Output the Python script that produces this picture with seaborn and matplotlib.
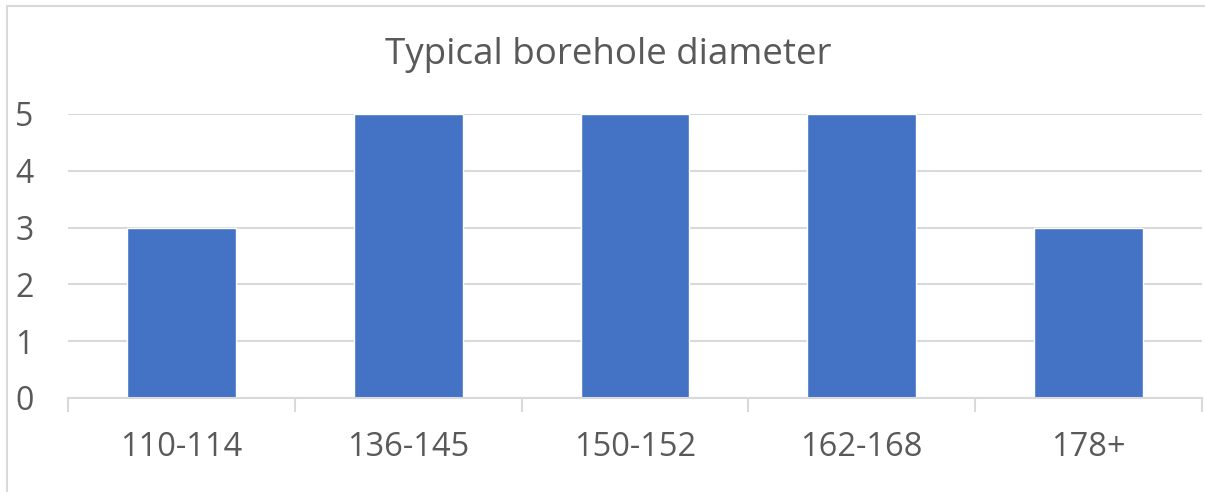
# -*- coding: utf-8 -*-
"""
Bar chart of typical borehole diameters
"""

import seaborn as sns
import matplotlib.pyplot as plt
import matplotlib.patches as mpatches
import pandas as pd
import numpy as np

# data
diameters = ['110-114', '136-145', '150-152', '162-168', '178+']
counts = [3, 5, 5, 5, 3]

df = pd.DataFrame({'diameter': diameters, 'count': counts})

# set theme
sns.set_theme(style='white')
plt.rcParams['font.family'] = ['Open Sans', 'DejaVu Sans']

grey = '#d9d9d9'
text_grey = '#595959'

fig = plt.figure(figsize=(12.05, 4.92), dpi=100)
ax = fig.add_axes([68 / 1205, 94 / 492, 1134 / 1205, 284 / 492])

sns.barplot(data=df, x='diameter', y='count', color='#4472C4',
            width=0.48, saturation=1, ax=ax)

ax.set_xlim(-0.5, len(diameters) - 0.5)
ax.set_ylim(0, 5)
ax.set_yticks(range(0, 6))
ax.yaxis.grid(True, color=grey, linewidth=1.5)
ax.set_axisbelow(True)
for side in ['top', 'right', 'left']:
    ax.spines[side].set_visible(False)
ax.spines['bottom'].set_color(grey)
ax.spines['bottom'].set_linewidth(1.5)

ax.set_xlabel('')
ax.set_ylabel('')
ax.tick_params(axis='x', which='major', length=0, pad=24,
               labelsize=23.5, labelcolor=text_grey)
ax.set_xticks(np.arange(-0.5, len(diameters)), minor=True)
ax.tick_params(axis='x', which='minor', length=10, width=1.5,
               color=grey, bottom=True)
ax.tick_params(axis='y', length=0, pad=38, labelsize=23,
               labelcolor=text_grey)
for lab in ax.get_yticklabels():
    lab.set_horizontalalignment('left')

fig.text(608 / 1205, 1 - 55 / 492, 'Typical borehole diameter',
         ha='center', va='center', fontsize=26.5, color=text_grey)

# chart border
fig.patches.append(mpatches.Rectangle(
    (7 / 1205, -0.1), 1.2, 1 - 6 / 492 + 0.1, transform=fig.transFigure,
    fill=False, edgecolor=grey, linewidth=1.5))

fig.savefig('out.png', dpi=100)
